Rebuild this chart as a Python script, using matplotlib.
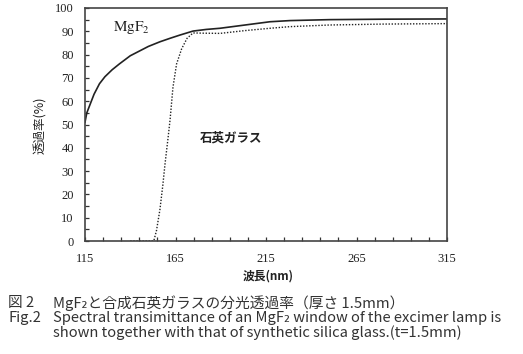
import matplotlib
matplotlib.use("Agg")
import matplotlib.pyplot as plt

plt.rcParams['mathtext.fontset'] = 'stix'

# MgF2 window (solid)
mgf2_wl = [115, 116, 118, 120, 123, 126, 130, 134, 140, 145, 150, 156.4, 162,
           167.5, 174.7, 182, 189.6, 203.4, 217.2, 228.3, 250, 280, 315]
mgf2_t = [51, 55, 59, 63, 67.5, 70.5, 73.5, 76, 79.5, 81.5, 83.5, 85.5, 87,
          88.4, 90.1, 90.8, 91.3, 92.7, 94.1, 94.6, 95.0, 95.2, 95.3]

# synthetic silica glass (dotted)
quartz_wl = [140, 153, 154.5, 156.4, 158, 159.2, 161, 162, 163.6, 165.6, 168.4,
             171.4, 174.7, 180, 189.6, 203.4, 217.2, 228.3, 250, 280, 315]
quartz_t = [0, 0, 4.5, 13.5, 24, 33, 45, 52, 66, 76, 82.5,
            87, 89.3, 89.2, 89.1, 90.3, 91.3, 92, 92.7, 93.1, 93.3]

xticks = [115, 165, 215, 265, 315]
yticks = [0, 10, 20, 30, 40, 50, 60, 70, 80, 90, 100]

serif = 'Liberation Serif'
jp = ['Noto Sans CJK JP', 'DejaVu Sans']
ink = '#222222'

fig = plt.figure(figsize=(5.23, 3.54), dpi=100)
ax = fig.add_axes([85 / 523, 1 - 241 / 354, 362 / 523, 233 / 354])

ax.plot(mgf2_wl, mgf2_t, color=ink, lw=1.2)
ax.plot(quartz_wl, quartz_t, color=ink, lw=1.0, ls=(0, (1, 1.2)))

ax.set_xlim(115, 315)
ax.set_ylim(0, 100)
ax.set_xticks(xticks)
ax.set_yticks(yticks)
ax.set_xticks(range(115, 316, 10), minor=True)
ax.set_yticks(range(0, 101, 5), minor=True)
ax.tick_params(which='both', direction='in', length=3, width=0.9, color='#333333',
               top=False, right=False)
ax.tick_params(axis='y', which='major', pad=8)
ax.tick_params(axis='x', which='major', pad=9)
for lab in ax.get_xticklabels() + ax.get_yticklabels():
    lab.set_fontfamily(serif)
    lab.set_fontsize(9)
    lab.set_color(ink)
for s in ax.spines.values():
    s.set_color('#444444')
    s.set_linewidth(1.2)

ax.text(130.5, 91.8, r'$\mathrm{MgF_2}$', fontsize=11, color=ink, va='center', ha='left')
ax.text(178.5, 44.2, '石英ガラス', fontsize=9, fontweight='bold', family=jp,
        color=ink, va='center', ha='left')

fig.text(41 / 523, 1 - 125 / 354, '透過率(%)', rotation=90, fontsize=9, family=jp,
         color=ink, ha='center', va='center')
fig.text(268 / 523, 1 - 276 / 354, '波長(nm)', fontsize=8.5, family=jp, fontweight='bold',
         color=ink, ha='center', va='center')

cap = dict(fontsize=10.6, family=jp, color='#333333', va='center', ha='left')
fig.text(8 / 523, 1 - 303 / 354, '図 2', **cap)
fig.text(53 / 523, 1 - 303 / 354, 'MgF₂と合成石英ガラスの分光透過率（厚さ 1.5mm）', **cap)
fig.text(8 / 523, 1 - 318 / 354, 'Fig.2', **cap)
fig.text(53 / 523, 1 - 318 / 354,
         'Spectral transimittance of an MgF₂ window of the excimer lamp is', **cap)
fig.text(53 / 523, 1 - 333 / 354,
         'shown together with that of synthetic silica glass.(t=1.5mm)', **cap)

fig.savefig('out.png', dpi=100)
